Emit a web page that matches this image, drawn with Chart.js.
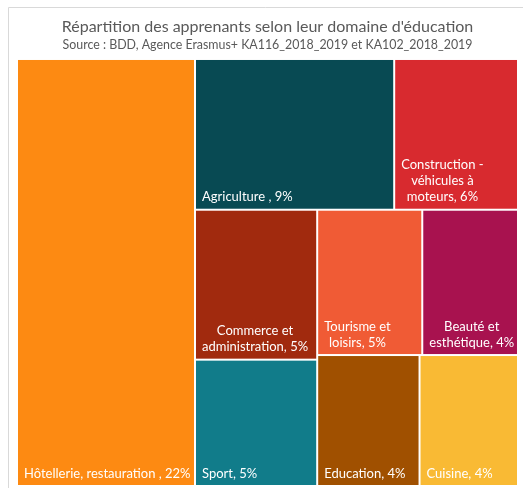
<!DOCTYPE html>
<html>
<head>
<meta charset="utf-8">
<script src="https://cdn.jsdelivr.net/npm/chart.js@4.4.0/dist/chart.umd.min.js"></script>
<style>
  html, body { margin: 0; padding: 0; background: #fff; }
  #wrap { width: 523px; height: 488px; }
</style>
</head>
<body>
<div id="wrap"><canvas id="treemapChart"></canvas></div>
<script>
// données (part des apprenants, en %)
const categories = ['Hôtellerie, restauration ', 'Agriculture ', 'Construction - véhicules à moteurs',
    'Commerce et administration', 'Sport', 'Tourisme et loisirs', 'Beauté et esthétique', 'Education', 'Cuisine'];
const shares = [22.4, 8.85, 5.5, 5.4, 4.55, 4.5, 4.1, 3.95, 3.8];
const percentLabels = ['22%', '9%', '6%', '5%', '5%', '5%', '4%', '4%', '4%'];

const colors = ['#FD8A12', '#084A53', '#D82A2F', '#A12A0E', '#117C8A', '#F05B35', '#A8124F', '#A05000', '#F9BA34'];

// =========================
// disposition "squarified" (comme Excel)
// =========================
function worstRatio(row, side) {
    const sum = row.reduce((s, it) => s + it.area, 0);
    const thick = sum / side;
    let worst = 0;
    row.forEach((it) => {
        const len = it.area / thick;
        worst = Math.max(worst, len / thick, thick / len);
    });
    return worst;
}

function squarify(items, rect, minGain) {
    const out = [];
    let rest = items.slice();
    const r = { ...rect };
    while (rest.length) {
        const vertical = r.w >= r.h;
        const side = vertical ? r.h : r.w;
        let row = [rest[0]];
        let prev = worstRatio(row, side);
        let k = 1;
        while (k < rest.length) {
            const cand = row.concat(rest[k]);
            const w = worstRatio(cand, side);
            if (w < prev * minGain) { row = cand; prev = w; k++; } else break;
        }
        const thick = row.reduce((s, it) => s + it.area, 0) / side;
        let off = 0;
        row.forEach((it) => {
            const len = it.area / thick;
            out[it.i] = vertical
                ? { x: r.x, y: r.y + off, w: thick, h: len }
                : { x: r.x + off, y: r.y, w: len, h: thick };
            off += len;
        });
        if (vertical) { r.x += thick; r.w -= thick; } else { r.y += thick; r.h -= thick; }
        rest = rest.slice(k);
    }
    return out;
}

function wrapText(ctx, text, maxWidth) {
    const words = text.split(' ');
    const lines = [];
    let line = '';
    words.forEach((w) => {
        const test = line ? line + ' ' + w : w;
        if (line && ctx.measureText(test).width > maxWidth) {
            lines.push(line);
            line = w;
        } else {
            line = test;
        }
    });
    if (line) lines.push(line);
    return lines;
}

const treemapPlugin = {
    id: 'treemap',
    beforeDraw(chart) {
        const c = chart.ctx;
        c.save();
        c.strokeStyle = '#D9D9D9';
        c.lineWidth = 1;
        c.beginPath();
        c.moveTo(8.5, chart.height);
        c.lineTo(8.5, 7.5);
        c.lineTo(chart.width, 7.5);
        c.stroke();
        c.restore();
    },
    afterDatasetsDraw(chart) {
        const xs = chart.scales.x;
        const ys = chart.scales.y;
        const pw = xs.getPixelForValue(1) - xs.getPixelForValue(0);
        const ph = Math.abs(ys.getPixelForValue(1) - ys.getPixelForValue(0));
        const aspect = pw / ph;
        const total = shares.reduce((a, b) => a + b, 0);
        const items = shares.map((v, i) => ({ i: i, area: v / total * aspect }))
            .sort((a, b) => b.area - a.area);
        const cells = squarify(items, { x: 0, y: 0, w: aspect, h: 1 }, 0.8);

        const c = chart.ctx;
        c.save();
        c.font = '13px Lato';
        c.textBaseline = 'middle';
        cells.forEach((cell, i) => {
            const left = xs.getPixelForValue(cell.x / aspect);
            const right = xs.getPixelForValue((cell.x + cell.w) / aspect);
            const top = ys.getPixelForValue(cell.y);
            const bottom = ys.getPixelForValue(cell.y + cell.h);
            c.fillStyle = colors[i];
            c.fillRect(left + 1, top + 1, right - left - 2, bottom - top - 2);

            const label = categories[i] + ', ' + percentLabels[i];
            const lines = wrapText(c, label, right - left - 8);
            const widths = lines.map((l) => c.measureText(l).width);
            const blockW = Math.max(...widths);
            c.fillStyle = '#FFFFFF';
            c.textAlign = 'center';
            lines.forEach((l, k) => {
                const y = bottom - 12.5 - (lines.length - 1 - k) * 16;
                c.fillText(l, left + 7 + blockW / 2, y);
            });
        });
        c.restore();
    }
};

const ctx = document.getElementById('treemapChart').getContext('2d');
const chart = new Chart(ctx, {
    type: 'scatter',
    data: { datasets: [{ data: [] }] },
    options: {
        responsive: true,
        maintainAspectRatio: false,
        animation: false,
        layout: { padding: { left: 17, right: 5, top: 0, bottom: 2 } },
        scales: {
            x: { type: 'linear', min: 0, max: 1, display: false },
            y: { type: 'linear', min: 0, max: 1, reverse: true, display: false }
        },
        plugins: {
            legend: { display: false },
            tooltip: { enabled: false },
            title: {
                display: true,
                text: 'Répartition des apprenants selon leur domaine d\'éducation',
                color: '#595959',
                font: { family: 'Lato', size: 16, weight: 'normal', lineHeight: 1.2 },
                padding: { top: 17, bottom: 0 }
            },
            subtitle: {
                display: true,
                text: 'Source : BDD, Agence Erasmus+ KA116_2018_2019 et KA102_2018_2019',
                color: '#595959',
                font: { family: 'Lato', size: 12.4, weight: 'normal', lineHeight: 1.2 },
                padding: { top: 1, bottom: 6.9 }
            }
        }
    },
    plugins: [treemapPlugin]
});
</script>
</body>
</html>
